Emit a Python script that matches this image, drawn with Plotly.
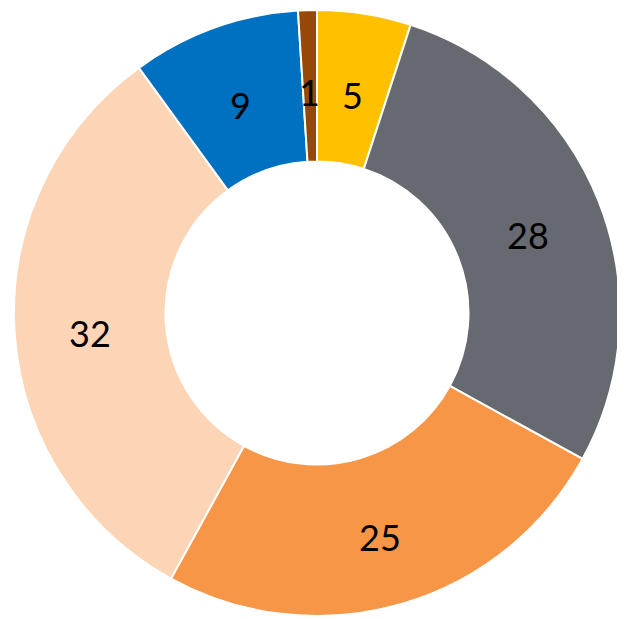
import math
import plotly.graph_objects as go

labels = ["A", "B", "C", "D", "E", "F"]
values = [5, 28, 25, 32, 9, 1]
colors = ["#FFC000", "#666A70", "#F79646", "#FBD5B5", "#0070C0", "#974706"]

W, H = 625, 619
PAGE_OFFSET = 8             # default page body margin
CX, CY, R = 317 - PAGE_OFFSET, 313 - PAGE_OFFSET, 303   # pie centre/radius (px)
HOLE = 0.5

dom_x = [(CX - R) / W, (CX + R) / W]
dom_y = [1 - (CY + R) / H, 1 - (CY - R) / H]

fig = go.Figure(go.Pie(
    labels=labels,
    values=values,
    hole=HOLE,
    sort=False,
    direction="clockwise",
    rotation=0,
    marker=dict(colors=colors, line=dict(color="white", width=2)),
    textinfo="none",
    hoverinfo="label+value",
    domain=dict(x=dom_x, y=dom_y),
    showlegend=False,
))

# value labels at the middle of each ring segment
total = sum(values)
cum = 0
rmid = R * (1 + HOLE) / 2
for v in values:
    ang = 2 * math.pi * (cum + v / 2) / total
    cum += v
    px = CX + rmid * math.sin(ang)
    py = CY - rmid * math.cos(ang)
    fig.add_annotation(
        x=px / W, y=1 - py / H, xref="paper", yref="paper",
        xanchor="center", yanchor="middle",
        text=str(v), showarrow=False, yshift=-6,
        font=dict(family="Lato, 'Open Sans', sans-serif", size=36, color="black"),
    )

fig.update_layout(
    width=W, height=H,
    margin=dict(l=0, r=0, t=0, b=0),
    paper_bgcolor="white",
)
fig.write_html("out.html")
